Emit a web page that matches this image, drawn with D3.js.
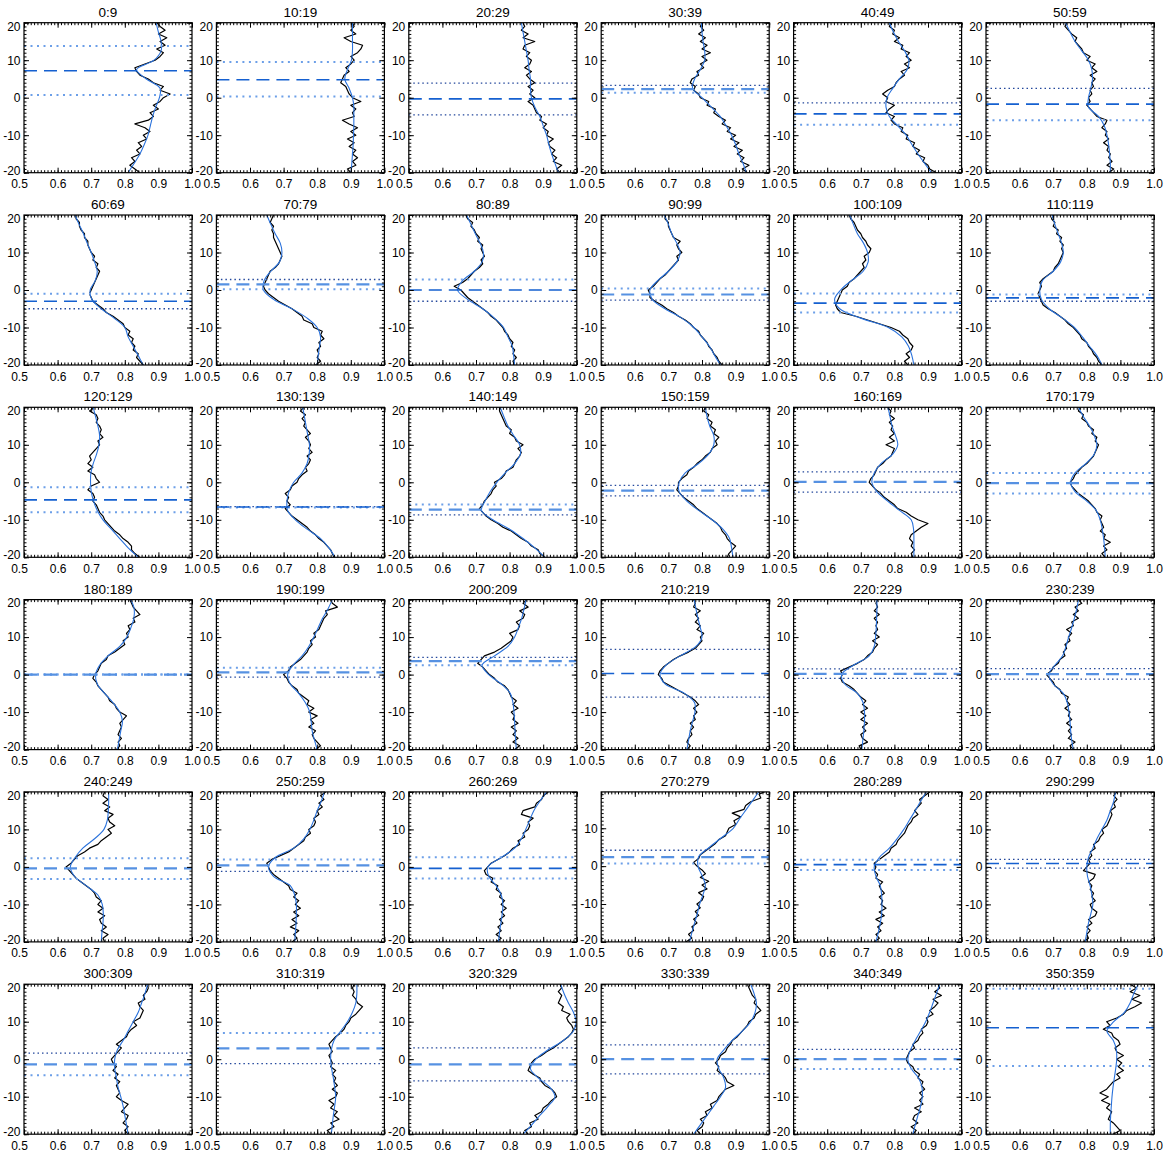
<!DOCTYPE html>
<html>
<head>
<meta charset="utf-8">
<script src="https://cdn.jsdelivr.net/npm/d3@7"></script>
<style>
  body { margin: 0; background: #fff; }
  svg text { font-family: "Liberation Sans", Arial, sans-serif; fill: #000; }
</style>
</head>
<body>
<svg id="chart" width="1164" height="1157"></svg>
<script>
const titles = ["0:9","10:19","20:29","30:39","40:49","50:59",
  "60:69","70:79","80:89","90:99","100:109","110:119",
  "120:129","130:139","140:149","150:159","160:169","170:179",
  "180:189","190:199","200:209","210:219","220:229","230:239",
  "240:249","250:259","260:269","270:279","280:289","290:299",
  "300:309","310:319","320:329","330:339","340:349","350:359"];

// sample rows of the measured profile (black) and of the fit (blue)
const sampleY = [-20,-19,-18,-17,-16,-15,-14,-13,-12,-11,-10,-9,-8,-7,-6,-5,-4,-3,-2,-1,
  0,1,2,3,4,5,6,7,8,9,10,11,12,13,14,15,16,17,18,19,20];
const fitY = [-20,-17.5,-15,-12.5,-10,-7.5,-5,-2.5,0,2.5,5,7.5,10,12.5,15,17.5,20];

const profiles = [
  [0.845,0.83,0.815,0.83,0.82,0.845,0.835,0.85,0.84,0.865, 0.855,0.875,0.86,0.83,0.87,0.885,0.875,0.9,0.885,0.905, 0.915,0.935,0.905,0.915,0.885,0.87,0.845,0.835,0.83,0.86, 0.89,0.905,0.915,0.895,0.92,0.905,0.925,0.9,0.92,0.905,0.895],
  [0.9,0.89,0.915,0.905,0.92,0.905,0.915,0.895,0.91,0.89, 0.915,0.9,0.92,0.895,0.875,0.91,0.905,0.915,0.9,0.93, 0.905,0.895,0.89,0.885,0.87,0.875,0.88,0.895,0.885,0.9, 0.91,0.9,0.92,0.93,0.935,0.9,0.88,0.915,0.9,0.91,0.905],
  [0.95,0.94,0.955,0.93,0.94,0.925,0.935,0.92,0.915,0.93, 0.91,0.915,0.9,0.91,0.89,0.895,0.88,0.875,0.87,0.855, 0.875,0.86,0.87,0.855,0.875,0.86,0.85,0.865,0.845,0.86, 0.865,0.85,0.86,0.84,0.845,0.875,0.84,0.855,0.835,0.845,0.84],
  [0.935,0.92,0.94,0.915,0.925,0.905,0.92,0.895,0.91,0.885, 0.9,0.875,0.885,0.86,0.87,0.85,0.835,0.84,0.815,0.82, 0.795,0.79,0.775,0.78,0.765,0.77,0.79,0.785,0.805,0.795, 0.815,0.8,0.825,0.8,0.815,0.795,0.81,0.79,0.805,0.795,0.8],
  [0.925,0.905,0.9,0.885,0.89,0.865,0.875,0.855,0.86,0.835, 0.84,0.82,0.825,0.8,0.79,0.8,0.775,0.785,0.8,0.775, 0.78,0.765,0.78,0.8,0.805,0.815,0.83,0.82,0.845,0.83, 0.85,0.835,0.845,0.82,0.825,0.8,0.815,0.795,0.8,0.785,0.79],
  [0.865,0.88,0.86,0.875,0.865,0.87,0.86,0.865,0.85,0.865, 0.855,0.86,0.845,0.855,0.86,0.83,0.82,0.81,0.8,0.81, 0.805,0.815,0.81,0.82,0.815,0.825,0.81,0.83,0.815,0.825, 0.8,0.81,0.79,0.785,0.775,0.765,0.77,0.755,0.745,0.735,0.74],
  [0.855,0.845,0.835,0.84,0.825,0.83,0.82,0.825,0.81,0.815, 0.8,0.795,0.78,0.765,0.745,0.735,0.72,0.705,0.7,0.695, 0.7,0.705,0.71,0.715,0.72,0.725,0.715,0.72,0.705,0.71, 0.7,0.695,0.69,0.69,0.68,0.68,0.67,0.665,0.665,0.655,0.655],
  [0.795,0.81,0.8,0.805,0.8,0.81,0.805,0.82,0.81,0.815, 0.79,0.785,0.76,0.755,0.74,0.725,0.705,0.685,0.67,0.655, 0.645,0.64,0.645,0.65,0.655,0.66,0.675,0.685,0.69,0.695, 0.69,0.685,0.68,0.675,0.67,0.67,0.665,0.67,0.66,0.665,0.67],
  [0.815,0.81,0.82,0.81,0.815,0.805,0.81,0.8,0.795,0.785, 0.78,0.77,0.76,0.745,0.735,0.72,0.705,0.69,0.675,0.665, 0.655,0.635,0.66,0.675,0.685,0.695,0.71,0.72,0.715,0.725, 0.72,0.715,0.72,0.705,0.71,0.7,0.695,0.685,0.69,0.675,0.67],
  [0.86,0.85,0.845,0.835,0.83,0.82,0.815,0.805,0.795,0.79, 0.775,0.765,0.75,0.73,0.715,0.695,0.68,0.66,0.645,0.645, 0.64,0.655,0.665,0.675,0.69,0.7,0.71,0.72,0.73,0.725, 0.74,0.73,0.725,0.735,0.715,0.71,0.705,0.7,0.7,0.69,0.69],
  [0.84,0.83,0.845,0.835,0.85,0.855,0.845,0.84,0.825,0.815, 0.79,0.755,0.72,0.685,0.64,0.63,0.625,0.63,0.635,0.64, 0.645,0.66,0.665,0.68,0.69,0.7,0.71,0.705,0.715,0.71, 0.725,0.73,0.72,0.715,0.705,0.7,0.69,0.685,0.68,0.67,0.665],
  [0.845,0.835,0.83,0.82,0.815,0.805,0.8,0.785,0.78,0.77, 0.76,0.745,0.735,0.72,0.705,0.685,0.67,0.665,0.66,0.655, 0.66,0.665,0.66,0.67,0.685,0.7,0.705,0.715,0.72,0.725, 0.73,0.725,0.73,0.72,0.725,0.71,0.715,0.7,0.705,0.695,0.7],
  [0.844,0.83,0.82,0.82,0.81,0.795,0.785,0.77,0.76,0.75, 0.74,0.735,0.725,0.72,0.715,0.705,0.71,0.705,0.69,0.7, 0.725,0.715,0.71,0.69,0.705,0.69,0.7,0.695,0.705,0.715, 0.725,0.72,0.735,0.725,0.73,0.725,0.715,0.72,0.715,0.695,0.71],
  [0.85,0.845,0.84,0.83,0.82,0.805,0.795,0.78,0.77,0.755, 0.74,0.725,0.715,0.705,0.72,0.71,0.715,0.705,0.72,0.725, 0.74,0.745,0.755,0.77,0.765,0.775,0.78,0.77,0.785,0.775, 0.78,0.775,0.765,0.78,0.77,0.76,0.765,0.755,0.765,0.75,0.76],
  [0.905,0.89,0.885,0.865,0.855,0.835,0.82,0.805,0.78,0.765, 0.745,0.73,0.72,0.71,0.72,0.725,0.735,0.745,0.75,0.76, 0.755,0.775,0.785,0.79,0.81,0.815,0.82,0.83,0.835,0.825, 0.84,0.82,0.815,0.8,0.805,0.79,0.785,0.78,0.775,0.77,0.77],
  [0.875,0.88,0.89,0.9,0.885,0.875,0.87,0.86,0.855,0.845, 0.83,0.815,0.8,0.785,0.775,0.76,0.745,0.735,0.725,0.73, 0.73,0.74,0.755,0.76,0.775,0.785,0.8,0.81,0.825,0.83, 0.845,0.84,0.85,0.835,0.84,0.825,0.83,0.815,0.82,0.805,0.81],
  [0.855,0.85,0.86,0.85,0.855,0.845,0.85,0.865,0.88,0.9, 0.87,0.85,0.835,0.81,0.8,0.785,0.77,0.76,0.745,0.735, 0.725,0.73,0.74,0.745,0.75,0.765,0.775,0.79,0.795,0.8, 0.775,0.8,0.785,0.8,0.79,0.795,0.785,0.8,0.785,0.79,0.78],
  [0.855,0.845,0.86,0.85,0.87,0.85,0.855,0.84,0.85,0.845, 0.84,0.845,0.83,0.825,0.815,0.805,0.79,0.775,0.765,0.755, 0.75,0.76,0.765,0.775,0.785,0.8,0.81,0.82,0.825,0.83, 0.835,0.825,0.83,0.815,0.82,0.805,0.8,0.785,0.79,0.775,0.78],
  [0.775,0.785,0.78,0.79,0.78,0.785,0.79,0.785,0.795,0.805, 0.785,0.775,0.77,0.755,0.75,0.74,0.73,0.72,0.715,0.705, 0.71,0.72,0.725,0.73,0.745,0.75,0.77,0.785,0.8,0.795, 0.81,0.805,0.815,0.81,0.83,0.825,0.845,0.835,0.825,0.82,0.815],
  [0.795,0.81,0.8,0.79,0.785,0.795,0.775,0.79,0.78,0.8, 0.775,0.79,0.77,0.775,0.76,0.745,0.74,0.725,0.715,0.71, 0.7,0.715,0.72,0.735,0.75,0.76,0.77,0.775,0.785,0.78, 0.795,0.79,0.805,0.81,0.815,0.82,0.83,0.825,0.86,0.845,0.84],
  [0.815,0.83,0.81,0.825,0.81,0.82,0.805,0.825,0.81,0.815, 0.805,0.825,0.81,0.82,0.805,0.8,0.795,0.785,0.765,0.755, 0.74,0.73,0.72,0.705,0.715,0.725,0.755,0.775,0.79,0.805, 0.81,0.8,0.825,0.83,0.82,0.84,0.845,0.83,0.855,0.84,0.85],
  [0.755,0.765,0.755,0.76,0.77,0.765,0.775,0.765,0.78,0.775, 0.785,0.775,0.79,0.78,0.765,0.745,0.725,0.705,0.685,0.68, 0.67,0.675,0.685,0.7,0.715,0.735,0.76,0.78,0.79,0.8, 0.795,0.805,0.785,0.795,0.78,0.79,0.78,0.795,0.775,0.78,0.775],
  [0.7,0.695,0.72,0.705,0.7,0.715,0.705,0.72,0.7,0.715, 0.7,0.72,0.705,0.715,0.7,0.69,0.68,0.665,0.645,0.64, 0.645,0.64,0.665,0.69,0.71,0.72,0.735,0.74,0.75,0.735, 0.755,0.74,0.75,0.745,0.75,0.74,0.755,0.74,0.75,0.745,0.75],
  [0.76,0.75,0.765,0.745,0.755,0.745,0.755,0.74,0.755,0.745, 0.75,0.735,0.75,0.74,0.745,0.725,0.72,0.705,0.7,0.69, 0.68,0.695,0.7,0.715,0.72,0.735,0.73,0.74,0.735,0.75, 0.745,0.755,0.74,0.76,0.755,0.775,0.76,0.775,0.765,0.785,0.775],
  [0.74,0.735,0.75,0.73,0.745,0.73,0.725,0.74,0.72,0.735, 0.72,0.73,0.715,0.71,0.7,0.685,0.67,0.655,0.645,0.635, 0.625,0.64,0.65,0.66,0.68,0.695,0.72,0.73,0.745,0.76, 0.75,0.77,0.755,0.75,0.765,0.74,0.755,0.735,0.75,0.735,0.74],
  [0.725,0.74,0.73,0.745,0.72,0.74,0.725,0.745,0.73,0.75, 0.735,0.745,0.73,0.74,0.72,0.715,0.7,0.685,0.67,0.66, 0.655,0.65,0.665,0.69,0.715,0.73,0.745,0.76,0.765,0.78, 0.775,0.79,0.795,0.79,0.805,0.8,0.815,0.805,0.82,0.81,0.825],
  [0.76,0.775,0.76,0.775,0.765,0.78,0.77,0.785,0.775,0.79, 0.775,0.785,0.77,0.775,0.76,0.765,0.745,0.75,0.73,0.725, 0.735,0.745,0.765,0.785,0.8,0.81,0.83,0.825,0.845,0.84, 0.855,0.86,0.855,0.87,0.835,0.84,0.875,0.88,0.895,0.9,0.915],
  [0.752,0.77,0.76,0.775,0.77,0.785,0.775,0.79,0.78,0.795, 0.785,0.8,0.805,0.79,0.815,0.8,0.82,0.795,0.81,0.8, 0.785,0.775,0.79,0.795,0.81,0.825,0.84,0.85,0.87,0.875, 0.88,0.9,0.895,0.915,0.89,0.925,0.93,0.945,0.975,0.97,0.995],
  [0.74,0.755,0.745,0.76,0.75,0.765,0.745,0.77,0.755,0.775, 0.76,0.765,0.755,0.77,0.76,0.755,0.765,0.745,0.75,0.74, 0.745,0.74,0.755,0.77,0.785,0.79,0.805,0.81,0.82,0.83, 0.835,0.84,0.85,0.855,0.87,0.86,0.87,0.88,0.875,0.89,0.905],
  [0.79,0.805,0.8,0.81,0.8,0.815,0.805,0.825,0.83,0.815, 0.81,0.825,0.815,0.82,0.81,0.815,0.805,0.82,0.825,0.79, 0.8,0.81,0.805,0.815,0.81,0.825,0.82,0.835,0.84,0.85, 0.845,0.86,0.865,0.87,0.875,0.87,0.885,0.88,0.89,0.88,0.89],
  [0.81,0.8,0.81,0.795,0.805,0.81,0.79,0.8,0.81,0.79, 0.775,0.785,0.78,0.775,0.785,0.77,0.78,0.765,0.775,0.765, 0.76,0.77,0.78,0.79,0.775,0.79,0.805,0.81,0.82,0.835, 0.825,0.845,0.85,0.855,0.845,0.84,0.86,0.855,0.865,0.87,0.865],
  [0.84,0.83,0.85,0.84,0.865,0.85,0.86,0.84,0.85,0.835, 0.855,0.86,0.845,0.86,0.85,0.855,0.845,0.855,0.84,0.845, 0.84,0.835,0.845,0.84,0.835,0.845,0.855,0.87,0.88,0.885, 0.895,0.9,0.915,0.925,0.935,0.92,0.915,0.905,0.91,0.905,0.91],
  [0.855,0.845,0.865,0.86,0.885,0.875,0.895,0.9,0.915,0.925, 0.94,0.935,0.925,0.905,0.895,0.89,0.87,0.855,0.86,0.865, 0.875,0.895,0.91,0.93,0.945,0.96,0.975,0.985,0.99,0.985, 0.975,0.97,0.98,0.955,0.96,0.945,0.95,0.955,0.945,0.955,0.95],
  [0.795,0.785,0.8,0.805,0.795,0.815,0.81,0.83,0.825,0.845, 0.85,0.86,0.87,0.895,0.875,0.87,0.86,0.845,0.85,0.84, 0.85,0.855,0.87,0.875,0.885,0.89,0.905,0.915,0.925,0.935, 0.94,0.955,0.96,0.975,0.965,0.955,0.96,0.95,0.945,0.94,0.935],
  [0.855,0.865,0.85,0.87,0.855,0.86,0.88,0.86,0.885,0.875, 0.885,0.875,0.89,0.88,0.885,0.87,0.875,0.86,0.855,0.84, 0.835,0.84,0.845,0.86,0.855,0.87,0.875,0.885,0.88,0.895, 0.9,0.895,0.915,0.905,0.92,0.93,0.915,0.94,0.92,0.935,0.93],
  [0.878,0.899,0.889,0.879,0.864,0.869,0.874,0.859,0.869,0.844, 0.864,0.839,0.859,0.869,0.879,0.899,0.889,0.909,0.894,0.904, 0.889,0.909,0.889,0.884,0.899,0.894,0.879,0.874,0.849,0.869, 0.859,0.889,0.909,0.919,0.943,0.963,0.934,0.958,0.929,0.948,0.929]
];

const fits = [
  [0.81,0.828,0.845,0.858,0.869,0.876,0.883,0.892,0.903,0.905,0.864,0.835,0.887,0.908,0.908,0.9,0.893],
  [0.901,0.903,0.905,0.907,0.908,0.909,0.909,0.909,0.905,0.895,0.882,0.89,0.902,0.905,0.905,0.905,0.905],
  [0.945,0.935,0.925,0.917,0.91,0.9,0.89,0.875,0.865,0.862,0.862,0.858,0.855,0.85,0.845,0.84,0.835],
  [0.932,0.922,0.91,0.9,0.888,0.872,0.854,0.828,0.8,0.772,0.778,0.795,0.808,0.808,0.803,0.8,0.798],
  [0.91,0.89,0.87,0.852,0.835,0.81,0.785,0.775,0.778,0.795,0.815,0.838,0.843,0.83,0.812,0.797,0.785],
  [0.87,0.87,0.868,0.865,0.86,0.852,0.835,0.805,0.805,0.812,0.817,0.815,0.805,0.785,0.765,0.75,0.737],
  [0.855,0.84,0.825,0.81,0.8,0.768,0.73,0.702,0.697,0.712,0.718,0.71,0.7,0.688,0.677,0.664,0.652],
  [0.8,0.803,0.807,0.81,0.8,0.77,0.725,0.67,0.64,0.642,0.662,0.688,0.695,0.69,0.675,0.662,0.65],
  [0.815,0.812,0.808,0.795,0.782,0.755,0.72,0.675,0.645,0.66,0.695,0.718,0.722,0.712,0.698,0.685,0.672],
  [0.855,0.838,0.822,0.8,0.776,0.74,0.69,0.652,0.645,0.668,0.7,0.725,0.735,0.725,0.71,0.7,0.688],
  [0.858,0.852,0.842,0.822,0.782,0.7,0.637,0.622,0.64,0.672,0.707,0.722,0.72,0.708,0.69,0.678,0.667],
  [0.845,0.83,0.808,0.787,0.763,0.728,0.688,0.665,0.66,0.668,0.7,0.722,0.73,0.725,0.715,0.705,0.697],
  [0.84,0.81,0.785,0.76,0.735,0.718,0.707,0.7,0.698,0.699,0.706,0.716,0.723,0.725,0.72,0.713,0.706],
  [0.853,0.835,0.81,0.77,0.735,0.712,0.71,0.716,0.73,0.755,0.77,0.776,0.777,0.772,0.767,0.762,0.757],
  [0.905,0.875,0.84,0.8,0.75,0.716,0.727,0.742,0.762,0.787,0.815,0.832,0.83,0.812,0.795,0.783,0.772],
  [0.892,0.888,0.882,0.862,0.83,0.79,0.755,0.732,0.732,0.75,0.79,0.82,0.835,0.835,0.823,0.815,0.81],
  [0.858,0.858,0.858,0.857,0.85,0.815,0.78,0.748,0.733,0.74,0.76,0.795,0.81,0.803,0.793,0.787,0.781],
  [0.855,0.853,0.85,0.846,0.84,0.828,0.8,0.765,0.752,0.765,0.797,0.822,0.83,0.822,0.808,0.79,0.775],
  [0.778,0.783,0.788,0.793,0.785,0.765,0.74,0.718,0.713,0.725,0.75,0.785,0.806,0.818,0.827,0.828,0.818],
  [0.8,0.792,0.785,0.782,0.778,0.765,0.745,0.72,0.712,0.728,0.755,0.775,0.79,0.803,0.816,0.832,0.845],
  [0.82,0.818,0.816,0.815,0.813,0.81,0.802,0.775,0.738,0.718,0.755,0.795,0.815,0.826,0.836,0.843,0.849],
  [0.755,0.76,0.765,0.772,0.779,0.778,0.748,0.69,0.675,0.693,0.735,0.782,0.8,0.795,0.788,0.782,0.777],
  [0.703,0.706,0.709,0.711,0.711,0.707,0.69,0.652,0.643,0.678,0.725,0.74,0.744,0.746,0.747,0.748,0.748],
  [0.76,0.755,0.752,0.75,0.747,0.742,0.73,0.7,0.687,0.705,0.728,0.738,0.746,0.755,0.763,0.77,0.775],
  [0.73,0.732,0.735,0.736,0.733,0.72,0.685,0.65,0.638,0.652,0.675,0.71,0.738,0.748,0.751,0.752,0.752],
  [0.733,0.735,0.737,0.738,0.738,0.733,0.72,0.67,0.655,0.675,0.73,0.76,0.778,0.79,0.8,0.812,0.822],
  [0.767,0.77,0.774,0.778,0.78,0.775,0.76,0.738,0.735,0.775,0.815,0.835,0.848,0.86,0.872,0.89,0.91],
  [0.763,0.77,0.778,0.786,0.793,0.803,0.81,0.8,0.788,0.79,0.822,0.858,0.893,0.912,0.932,0.952,0.972],
  [0.745,0.752,0.758,0.762,0.763,0.762,0.758,0.745,0.74,0.755,0.785,0.808,0.828,0.845,0.862,0.878,0.895],
  [0.795,0.8,0.805,0.812,0.818,0.815,0.81,0.802,0.8,0.805,0.818,0.83,0.845,0.86,0.87,0.88,0.885],
  [0.81,0.805,0.8,0.795,0.788,0.78,0.775,0.77,0.77,0.778,0.795,0.81,0.825,0.84,0.85,0.86,0.868],
  [0.842,0.845,0.848,0.852,0.855,0.852,0.848,0.843,0.84,0.842,0.85,0.87,0.89,0.905,0.915,0.918,0.918],
  [0.84,0.866,0.89,0.915,0.935,0.92,0.885,0.862,0.878,0.915,0.96,0.99,0.998,0.99,0.975,0.962,0.952],
  [0.775,0.795,0.815,0.835,0.855,0.87,0.865,0.85,0.845,0.865,0.89,0.92,0.945,0.958,0.962,0.955,0.945],
  [0.855,0.862,0.87,0.878,0.883,0.882,0.872,0.85,0.84,0.848,0.862,0.878,0.893,0.905,0.915,0.925,0.935],
  [0.87,0.87,0.871,0.873,0.875,0.878,0.882,0.886,0.889,0.888,0.879,0.86,0.88,0.912,0.929,0.94,0.953]
];

// horizontal markers: centre (dashed) and bounds (dotted)
const centerY = [7.2,4.8,-0.3,2.3,-4.3,-1.7, -3.0,1.5,0.0,-1.2,-3.5,-2.1, -4.7,-6.6,-7.3,-2.2,0.1,-0.2,
  0.0,0.6,3.6,0.3,0.2,0.1, -0.4,0.4,-0.4,2.4,0.6,0.9, -1.4,2.9,-1.4,0.0,0.0,8.4];
const upperY = [13.8,9.5,3.9,3.3,-1.4,2.5, -1.0,2.8,2.8,0.4,-0.9,-1.2, -1.3,-6.5,-5.9,-0.8,2.8,2.5,
  0.0,1.8,4.6,6.7,1.5,1.6, 2.3,2.0,2.6,4.2,1.9,2.0, 1.6,7.0,3.0,3.8,2.6,18.8];
const lowerY = [0.7,0.3,-4.6,1.3,-7.2,-6.0, -5.0,0.2,-3.0,-2.7,-6.0,-3.0, -8.0,-6.7,-8.7,-3.6,-2.6,-3.0,
  0.0,-0.7,2.5,-6.0,-1.0,-1.2, -3.2,-1.2,-3.1,0.7,-0.8,-0.3, -4.3,-1.2,-5.8,-3.9,-2.6,-1.8];
const centerTone = ["d","d","d","l","d","d", "d","l","d","l","d","d", "d","d","l","l","l","l",
  "l","l","l","d","l","l", "l","l","d","l","d","d", "l","l","l","l","l","d"];
const upperTone = ["l","l","d","d","d","d", "l","d","l","l","l","l", "l","d","l","d","d","l",
  "l","l","d","d","d","d", "l","l","l","d","l","d", "d","l","d","d","d","l"];
const lowerTone = ["l","l","d","l","l","l", "d","l","d","d","l","d", "l","l","d","d","d","l",
  "l","d","l","d","d","d", "l","d","l","l","l","d", "l","d","d","d","l","l"];
const yTop = [20,20,20,20,20,20, 20,20,20,20,20,20, 20,20,20,20,20,20,
  20,20,20,20,20,20, 20,20,20,19.6,20,20, 20,20,20,20,20,20];

const xMajor = [0.5, 0.6, 0.7, 0.8, 0.9, 1.0];
const yMajor = [-20, -10, 0, 10, 20];

const svg = d3.select("#chart");
const cols = 6, panelW = 168, panelH = 150;
const left0 = 24, top0 = 22.7, colStep = 192.4, rowStep = 192.3;

const x = d3.scaleLinear().domain([0.5, 1.0]).range([0, panelW]);
const xMinor = d3.range(50, 101).map(v => v / 100);

const dotStyle = {
  d: { stroke: "#23479c", width: 1.3, dash: "1.5,3" },
  l: { stroke: "#6c9fe8", width: 2, dash: "2,4.5" }
};
const dashStyle = {
  d: { stroke: "#1560d0", width: 1.6 },
  l: { stroke: "#5691e2", width: 2.2 }
};

function noDomain(g) { g.select(".domain").remove(); }

titles.forEach((title, i) => {
  const col = i % cols, row = Math.floor(i / cols);
  const g = svg.append("g")
    .attr("transform", `translate(${left0 + col * colStep},${top0 + row * rowStep})`);
  const y = d3.scaleLinear().domain([-20, yTop[i]]).range([panelH, 0]);

  g.append("clipPath").attr("id", "clip" + i)
    .append("rect").attr("width", panelW).attr("height", panelH);
  const plot = g.append("g").attr("clip-path", `url(#clip${i})`);

  plot.append("path")
    .datum(profiles[i])
    .attr("fill", "none")
    .attr("stroke", "#000")
    .attr("stroke-width", 1.2)
    .attr("stroke-linejoin", "round")
    .attr("d", d3.line().x(d => x(d)).y((d, k) => y(sampleY[k])));

  plot.append("path")
    .datum(fits[i])
    .attr("fill", "none")
    .attr("stroke", "#2a72dc")
    .attr("stroke-width", 1.1)
    .attr("d", d3.line().x(d => x(d)).y((d, k) => y(fitY[k])).curve(d3.curveCatmullRom));

  [[upperY[i], upperTone[i]], [lowerY[i], lowerTone[i]]].forEach(([v, t]) => {
    const s = dotStyle[t];
    plot.append("line")
      .attr("x1", 0).attr("x2", panelW)
      .attr("y1", y(v)).attr("y2", y(v))
      .attr("stroke", s.stroke)
      .attr("stroke-width", s.width)
      .attr("stroke-dasharray", s.dash);
  });
  const cs = dashStyle[centerTone[i]];
  plot.append("line")
    .attr("x1", 0).attr("x2", panelW)
    .attr("y1", y(centerY[i])).attr("y2", y(centerY[i]))
    .attr("stroke", cs.stroke)
    .attr("stroke-width", cs.width)
    .attr("stroke-dasharray", "13,7");

  // ticks on all four sides, pointing inward
  const yMaj = yMajor.filter(v => v >= -20 && v <= yTop[i]);
  const yMin = d3.range(-20, 21).filter(v => v <= yTop[i]);

  g.append("g").attr("transform", `translate(0,${panelH})`)
    .call(d3.axisBottom(x).tickValues(xMinor).tickSize(-2.5).tickSizeOuter(0).tickFormat(""))
    .call(noDomain);
  g.append("g").call(d3.axisTop(x).tickValues(xMinor).tickSize(-2.5).tickSizeOuter(0).tickFormat(""))
    .call(noDomain);
  g.append("g").call(d3.axisLeft(y).tickValues(yMin).tickSize(-2.5).tickSizeOuter(0).tickFormat(""))
    .call(noDomain);
  g.append("g").attr("transform", `translate(${panelW},0)`)
    .call(d3.axisRight(y).tickValues(yMin).tickSize(-2.5).tickSizeOuter(0).tickFormat(""))
    .call(noDomain);
  g.append("g").call(d3.axisTop(x).tickValues(xMajor).tickSize(-5).tickSizeOuter(0).tickFormat(""))
    .call(noDomain);
  g.append("g").attr("transform", `translate(${panelW},0)`)
    .call(d3.axisRight(y).tickValues(yMaj).tickSize(-5).tickSizeOuter(0).tickFormat(""))
    .call(noDomain);

  const bottom = g.append("g").attr("transform", `translate(0,${panelH})`)
    .call(d3.axisBottom(x).tickValues(xMajor).tickSize(-5).tickSizeOuter(0).tickPadding(7)
      .tickFormat(d3.format(".1f")))
    .call(noDomain);
  bottom.selectAll("text").attr("font-size", 12).attr("font-family", null)
    .attr("x", d => d === 0.5 ? -5 : 0);

  const leftAxis = g.append("g")
    .call(d3.axisLeft(y).tickValues(yMaj).tickSize(-5).tickSizeOuter(0).tickPadding(3.5)
      .tickFormat(d => String(d)))
    .call(noDomain);
  leftAxis.selectAll("text").attr("font-size", 12).attr("font-family", null)
    .attr("y", d => d === 20 ? 3.5 : d === -20 ? -2.5 : 0);

  g.selectAll(".tick line").attr("stroke", "#000");

  g.append("rect")
    .attr("width", panelW).attr("height", panelH)
    .attr("fill", "none").attr("stroke", "#000").attr("stroke-width", 1.2);

  g.append("text")
    .attr("x", panelW / 2).attr("y", -6)
    .attr("text-anchor", "middle")
    .attr("font-size", 13.5)
    .text(title);
});
</script>
</body>
</html>
